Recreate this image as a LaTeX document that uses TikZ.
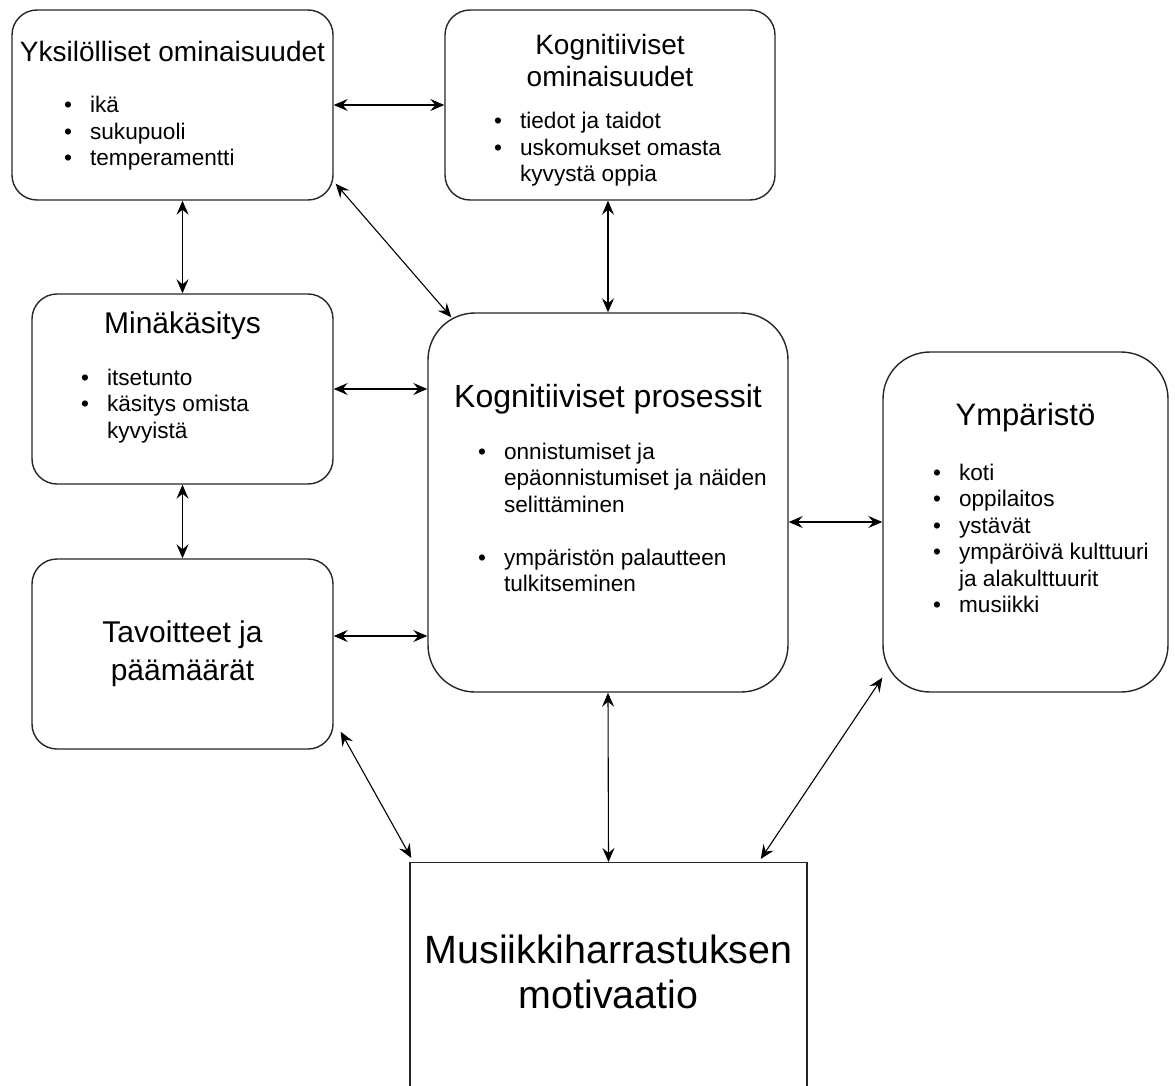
\documentclass[tikz,border=0pt]{standalone}
\usepackage{fontspec}
\setmainfont{Liberation Sans}
\usetikzlibrary{positioning,calc,arrows.meta}

\newcommand{\titlelines}[1]{\begin{tabular}[t]{@{}c@{}}#1\end{tabular}}
\newcommand{\bulletlist}[1]{\begin{tabular}[t]{@{}l@{\hspace{18pt}}l@{}}#1\end{tabular}}

\begin{document}
\begin{tikzpicture}[x=1pt, y=-1pt,
    box/.style={draw=black!85, line width=1.4pt, rounded corners=#1, inner sep=0pt},
    box/.default=25pt,
    head/.style 2 args={anchor=base, inner sep=0pt, font=\fontsize{#1pt}{#2pt}\selectfont},
    items/.style={anchor=base west, inner sep=0pt, font=\fontsize{22.6pt}{26.5pt}\selectfont},
    link/.style={{Stealth[length=14pt, width=12pt, inset=5pt]}-{Stealth[length=14pt, width=12pt, inset=5pt]}, line width=1.1pt}]
    \useasboundingbox (0,0) rectangle (1175,1086);

    % Boxes
    \node[box, minimum width=321pt, minimum height=190pt] (yks) at (172.5,105) {};
    \node[box, minimum width=330pt, minimum height=190pt] (kom) at (610,105) {};
    \node[box, minimum width=301pt, minimum height=190pt] (mina) at (182.5,389) {};
    \node[box, minimum width=301pt, minimum height=190pt] (tav) at (182.5,654) {};
    \node[box=47pt, minimum width=360pt, minimum height=379pt] (kpros) at (608,502.5) {};
    \node[box=47pt, minimum width=285pt, minimum height=340pt] (ymp) at (1025.5,522) {};
    \node[box=0pt, minimum width=397pt, minimum height=260pt, anchor=north] (mot) at (608.5,862) {};

    % Texts
    \node[head={28}{32}] (yks-t) at (172.5,62) {Yksilölliset ominaisuudet};
    \node[items] (yks-l) at (64,113) {\bulletlist{\textbullet & ikä\\ \textbullet & sukupuoli\\ \textbullet & temperamentti}};

    \node[head={28}{32}] (kom-t) at (610,55) {\titlelines{Kognitiiviset\\ ominaisuudet}};
    \node[items] (kom-l) at (494,129) {\bulletlist{\textbullet & tiedot ja taidot\\ \textbullet & uskomukset omasta\\ & kyvystä oppia}};

    \node[head={30}{34}] (mina-t) at (182.5,333) {Minäkäsitys};
    \node[items] (mina-l) at (81,385) {\bulletlist{\textbullet & itsetunto\\ \textbullet & käsitys omista\\ & kyvyistä}};

    \node[head={30}{38}] (tav-t) at (182.5,642) {\titlelines{Tavoitteet ja\\ päämäärät}};

    \node[head={32}{37}] (kpros-t) at (608,407) {Kognitiiviset prosessit};
    \node[items] (kpros-l) at (478,459) {\bulletlist{\textbullet & onnistumiset ja\\ & epäonnistumiset ja näiden\\ & selittäminen\\ & \\ \textbullet & ympäristön palautteen\\ & tulkitseminen}};

    \node[head={31}{36}] (ymp-t) at (1025.5,425) {Ympäristö};
    \node[items] (ymp-l) at (933,480) {\bulletlist{\textbullet & koti\\ \textbullet & oppilaitos\\ \textbullet & ystävät\\ \textbullet & ympäröivä kulttuuri\\ & ja alakulttuurit\\ \textbullet & musiikki}};

    \node[head={39.4}{45}] (mot-t) at (608.5,963) {\titlelines{Musiikkiharrastuksen\\ motivaatio}};

    % Connectors
    \coordinate (tav-r) at ($(tav.east)+(0,-18)$);
    \draw[link] (yks.east) -- (kom.west);
    \draw[link] (yks.south -| mina.north) -- (mina.north);
    \draw[link] ($(yks.south east)+(2,-17)$) -- ($(kpros.north west)+(24,5)$);
    \draw[link] (kom.south -| kpros.north) -- (kpros.north);
    \draw[link] (mina.east) -- (mina.east -| kpros.west);
    \draw[link] (mina.south) -- (tav.north);
    \draw[link] (tav-r) -- (tav-r -| kpros.west);
    \draw[link] (kpros.east |- ymp.west) -- (ymp.west);
    \draw[link] ($(tav.south east)+(7,-18)$) -- ($(mot.north west)+(2,-4)$);
    \draw[link] (kpros.south) -- (mot.north);
    \draw[link] ($(ymp.south west)+(0,-15)$) -- ($(mot.north east)+(-47,-3)$);
\end{tikzpicture}
\end{document}
